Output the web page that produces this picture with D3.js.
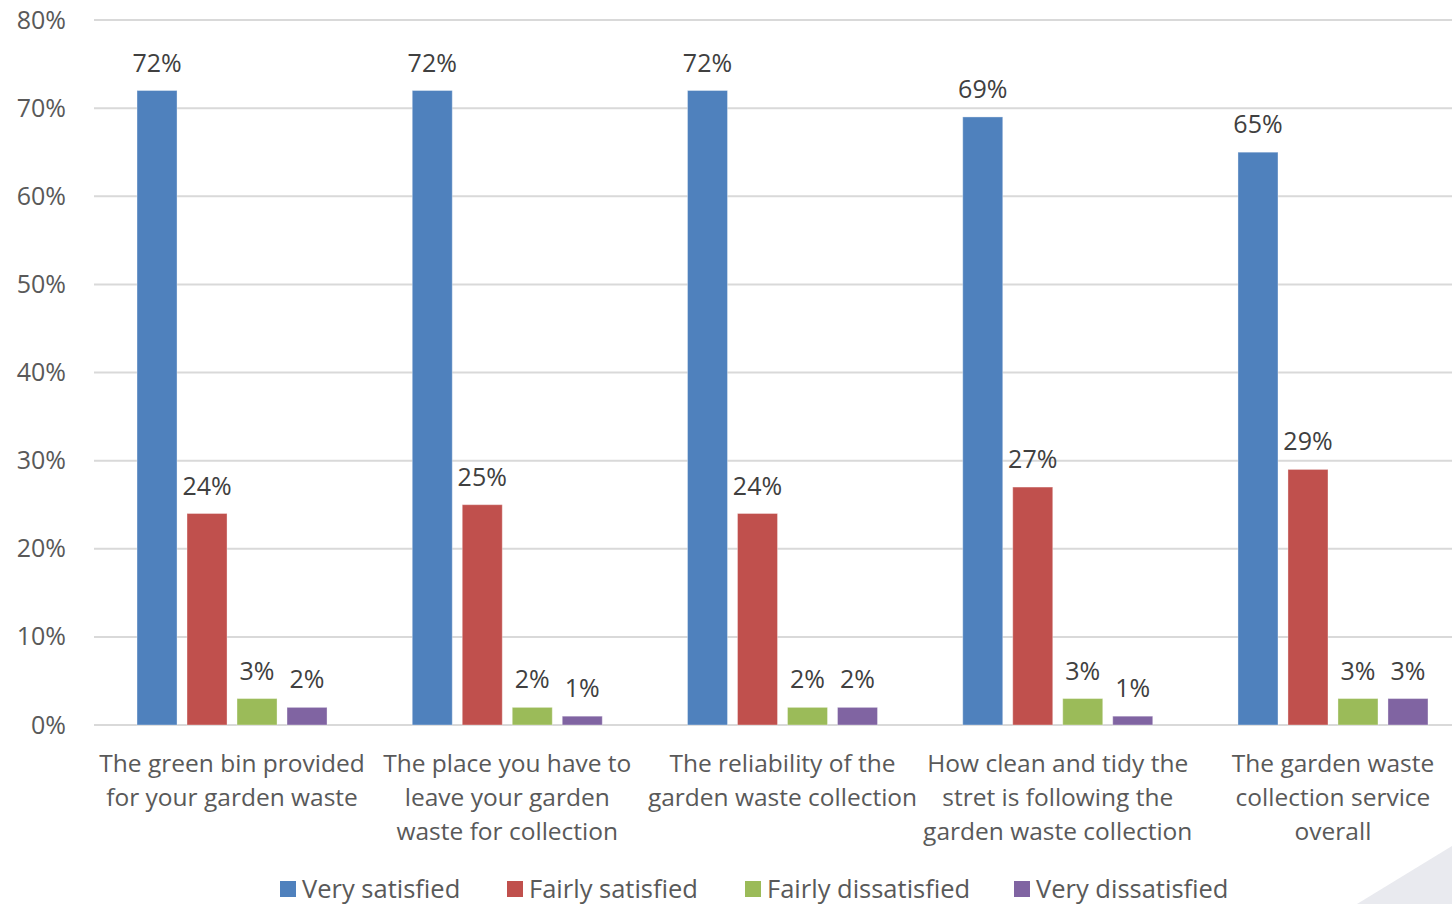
<!DOCTYPE html>
<html>
<head>
<meta charset="utf-8">
<script src="https://cdn.jsdelivr.net/npm/d3@7"></script>
<style>
  html, body { margin: 0; padding: 0; background: #fff; }
  svg { display: block; font-family: "Open Sans", sans-serif; }
</style>
</head>
<body>
<svg id="chart" width="1452" height="904"></svg>
<script>
const categories = [
  ['The green bin provided', 'for your garden waste'],
  ['The place you have to', 'leave your garden', 'waste for collection'],
  ['The reliability of the', 'garden waste collection'],
  ['How clean and tidy the', 'stret is following the', 'garden waste collection'],
  ['The garden waste', 'collection service', 'overall'],
];
const seriesNames = ['Very satisfied', 'Fairly satisfied', 'Fairly dissatisfied', 'Very dissatisfied'];
const seriesColors = ['#4f81bd', '#c0504d', '#9bbb59', '#8064a2'];
const verySatisfied = [72, 72, 72, 69, 65];
const fairlySatisfied = [24, 25, 24, 27, 29];
const fairlyDissatisfied = [3, 2, 2, 3, 3];
const veryDissatisfied = [2, 1, 2, 1, 3];
const yTicks = [0, 10, 20, 30, 40, 50, 60, 70, 80];

const series = [verySatisfied, fairlySatisfied, fairlyDissatisfied, veryDissatisfied];
const width = 1452;
const svg = d3.select('#chart');

const x = d3.scaleBand().domain(d3.range(categories.length)).range([94.4, 1470.6]);
const inner = d3.scaleBand().domain(d3.range(series.length))
  .range([x.bandwidth() / 2 - 95, x.bandwidth() / 2 + 95]).paddingInner(0.2);
const y = d3.scaleLinear().domain([0, 80]).range([725, 20]);

// background decoration in the corner
svg.append('path')
  .attr('d', `M1357,904 L${width},846 L${width},904 Z`)
  .attr('fill', '#e9eaef');

// gridlines
svg.append('g')
  .selectAll('line')
  .data(yTicks)
  .join('line')
  .attr('x1', 94).attr('x2', width)
  .attr('y1', d => y(d)).attr('y2', d => y(d))
  .attr('stroke', '#d9d9d9').attr('stroke-width', 2);

// y axis labels
const yAxis = svg.append('g')
  .attr('transform', 'translate(66,0)')
  .call(d3.axisLeft(y).tickValues(yTicks).tickFormat(d => d + '%').tickSize(0).tickPadding(0));
yAxis.select('.domain').remove();
yAxis.selectAll('text')
  .attr('fill', '#595959')
  .style('font-size', '25px')
  .style('font-family', '"Open Sans", sans-serif');

// bars
const groups = svg.append('g')
  .selectAll('g')
  .data(categories)
  .join('g')
  .attr('transform', (d, i) => `translate(${x(i)},0)`);

groups.each(function(c, ci) {
  const g = d3.select(this);
  const vals = series.map((s, si) => ({ si, v: s[ci] }));
  g.selectAll('rect')
    .data(vals)
    .join('rect')
    .attr('x', d => inner(d.si))
    .attr('width', inner.bandwidth())
    .attr('y', d => y(d.v))
    .attr('height', d => y(0) - y(d.v))
    .attr('fill', d => seriesColors[d.si])
    .attr('stroke', 'rgba(255,255,255,0.35)')
    .attr('stroke-width', 1);
  g.selectAll('text.val')
    .data(vals)
    .join('text')
    .attr('class', 'val')
    .attr('x', d => inner(d.si) + inner.bandwidth() / 2)
    .attr('y', d => y(d.v) - 19)
    .attr('text-anchor', 'middle')
    .attr('fill', '#404040')
    .style('font-size', '25px')
    .text(d => d.v + '%');
  g.append('text')
    .attr('text-anchor', 'middle')
    .attr('fill', '#595959')
    .style('font-size', '24.5px')
    .selectAll('tspan')
    .data(c)
    .join('tspan')
    .attr('x', x.bandwidth() / 2)
    .attr('y', (d, i) => 772 + i * 34)
    .text(d => d);
});

// legend
const legendX = [280, 507, 745, 1014];
const legend = svg.append('g')
  .selectAll('g')
  .data(seriesNames)
  .join('g')
  .attr('transform', (d, i) => `translate(${legendX[i]},0)`);
legend.append('rect')
  .attr('x', 0).attr('y', 881).attr('width', 16).attr('height', 16)
  .attr('fill', (d, i) => seriesColors[i]);
legend.append('text')
  .attr('x', 22).attr('y', 898)
  .attr('fill', '#595959')
  .style('font-size', '25.5px')
  .text(d => d);
</script>
</body>
</html>
